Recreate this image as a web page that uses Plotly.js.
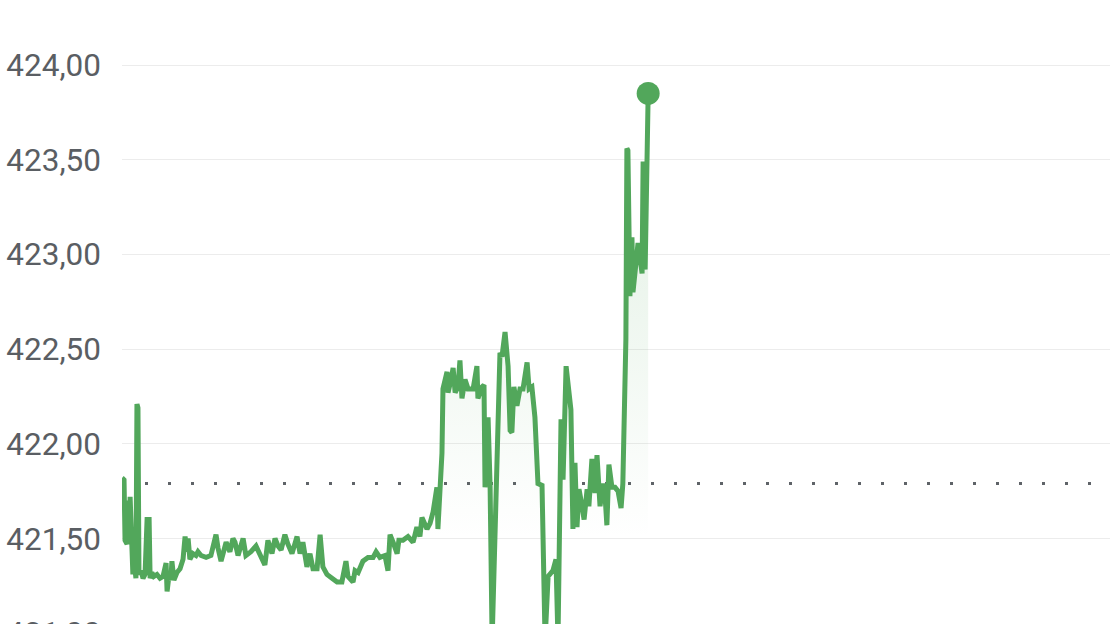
<!DOCTYPE html>
<html>
<head>
<meta charset="utf-8">
<script src="https://cdn.plot.ly/plotly-3.0.1.min.js"></script>
<style>
html,body{margin:0;padding:0;background:#fff;overflow:hidden;width:1110px;height:624px;}
#wrap{width:1110px;height:624px;overflow:hidden;}
#chart{width:1110px;height:700px;}
</style>
</head>
<body>
<div id="wrap"><div id="chart"></div></div>
<script>
// minutes since session open (09:30), session ends at 390
const minutes = [
0.0,0.8,1.2,2.0,2.4,2.8,3.2,3.6,4.3,4.7,5.5,5.9,6.3,6.7,7.5,8.3,9.1,9.9,10.7,11.1,
11.8,12.6,13.8,15.0,16.2,17.4,17.8,18.6,19.3,19.7,20.5,21.7,22.9,24.1,24.9,25.7,26.1,26.8,28.0,29.2,
30.0,31.2,33.2,35.1,37.1,37.9,39.1,41.1,42.6,43.8,44.6,45.8,47.8,48.9,50.9,52.9,
54.5,56.4,57.6,59.2,60.4,61.6,62.8,64.3,65.5,67.1,69.1,70.3,71.4,73.0,74.2,75.4,77.0,78.2,79.3,80.9,
82.9,84.9,86.8,88.4,89.2,91.2,92.0,93.2,95.1,97.1,99.1,100.3,101.8,103.8,105.0,105.8,107.0,108.6,109.3,110.9,
112.9,114.9,116.4,117.6,118.4,120.4,121.6,122.8,124.3,124.7,126.3,126.7,128.3,128.7,129.9,130.7,131.5,132.6,133.4,134.2,
135.4,136.6,138.6,140.1,140.5,142.1,142.9,143.3,144.5,145.3,146.1,147.2,149.2,150.0,151.2,152.4,153.2,
153.9,154.7,155.9,157.1,158.3,159.9,160.7,161.8,163.0,164.2,165.8,166.2,167.0,168.2,170.1,171.3,172.1,173.3,174.1,
175.3,176.1,177.2,178.0,178.8,179.6,180.4,181.6,182.4,183.6,184.3,185.5,186.7,187.5,188.7,189.9,190.7,191.4,192.2,193.4,
194.6,195.8,197.0,197.7,
198.9,199.3,199.7,200.5,201.3,201.7,203.3,203.7,205.3,205.7,206.5,207.3,207.7
];
const prices = [
421.82,421.81,421.49,421.47,421.70,421.49,421.72,421.47,421.31,421.39,421.29,422.21,422.19,421.31,421.33,421.29,421.31,421.60,421.60,421.29,
421.32,421.30,421.31,421.29,421.30,421.37,421.22,421.31,421.28,421.38,421.28,421.32,421.34,421.39,421.51,421.43,421.50,421.39,421.42,421.41,
421.43,421.41,421.40,421.41,421.52,421.45,421.38,421.48,421.43,421.50,421.48,421.41,421.50,421.41,421.43,421.46,
421.41,421.36,421.49,421.42,421.50,421.46,421.44,421.52,421.47,421.42,421.51,421.42,421.48,421.35,421.42,421.34,421.34,421.52,421.35,421.31,
421.29,421.27,421.27,421.38,421.30,421.27,421.33,421.32,421.38,421.40,421.40,421.43,421.40,421.41,421.33,421.52,421.48,421.42,421.49,421.49,
421.51,421.48,421.56,421.51,421.61,421.55,421.58,421.64,421.77,421.55,421.95,422.29,422.38,422.27,422.34,422.40,422.27,422.30,422.44,422.24,
422.34,422.29,422.29,422.41,422.24,422.30,422.31,421.77,422.14,421.78,420.96,421.48,422.48,422.46,422.59,422.41,422.07,
422.06,422.30,422.20,422.29,422.29,422.43,422.29,422.30,422.14,421.79,421.78,421.42,420.96,421.30,421.33,421.39,420.96,422.13,421.81,
422.41,422.32,422.18,421.55,421.90,421.56,421.76,421.67,421.60,421.76,421.67,421.92,421.74,421.94,421.67,421.79,421.72,421.57,421.89,421.77,
421.77,421.75,421.66,421.79,
422.55,423.56,423.55,422.78,423.09,422.80,422.99,423.06,422.90,423.49,422.92,423.80,423.85
];
const previousClose = 421.79;
const tickValues = [421.0, 421.5, 422.0, 422.5, 423.0, 423.5, 424.0];
const sessionEnd = 390;

const green = 'rgb(82,167,91)';
const lastX = minutes[minutes.length - 1];
const lastY = prices[prices.length - 1];

const traces = [
  {
    x: minutes, y: prices, type: 'scatter', mode: 'lines',
    line: {color: green, width: 5, shape: 'linear'},
    fill: 'tozeroy',
    fillgradient: {
      type: 'vertical',
      start: 421.5, stop: 424.0,
      colorscale: [[0, 'rgba(82,167,91,0)'], [1, 'rgba(82,167,91,0.2)']]
    },
    hoverinfo: 'skip'
  },
  {
    x: [lastX], y: [lastY], type: 'scatter', mode: 'markers',
    marker: {color: green, size: 23},
    hoverinfo: 'skip'
  }
];

const layout = {
  width: 1110, height: 700,
  margin: {l: 122, r: 0, t: 0, b: 0, pad: 0},
  paper_bgcolor: '#ffffff', plot_bgcolor: '#ffffff',
  showlegend: false,
  separators: ',.',
  xaxis: {range: [0, sessionEnd], visible: false, fixedrange: true},
  yaxis: {
    range: [420.647, 424.3436],
    tickvals: tickValues,
    tickformat: '.2f',
    showgrid: true, gridcolor: '#ececec', gridwidth: 1,
    zeroline: false, showline: false, ticks: '',
    ticklabelstandoff: 20,
    tickfont: {family: 'Roboto, Arial, sans-serif', size: 31.5, color: '#5a5e63'},
    fixedrange: true
  },
  shapes: [{
    type: 'line', xref: 'paper', yref: 'y',
    x0: 0, x1: 1, y0: previousClose, y1: previousClose,
    line: {color: '#5f6368', width: 3, dash: '3px,20px'},
    layer: 'below'
  }]
};

Plotly.newPlot('chart', traces, layout, {staticPlot: true, displayModeBar: false});
</script>
</body>
</html>
